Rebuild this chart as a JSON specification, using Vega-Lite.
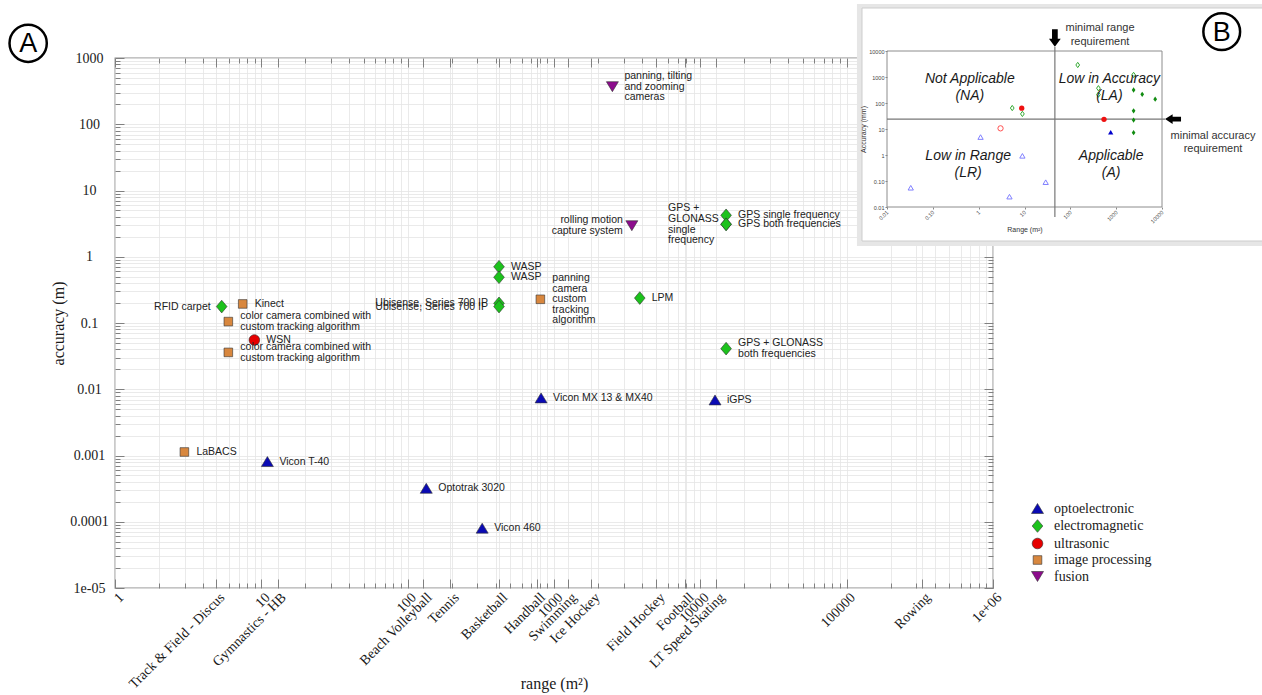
{
  "$schema": "https://vega.github.io/schema/vega-lite/v6.json",
  "width": 878,
  "height": 530,
  "autosize": {"type": "none"},
  "padding": {"left": 115, "top": 58, "right": 269, "bottom": 107},
  "background": "white",
  "config": {
    "view": {"stroke": "#8a8a8a", "strokeWidth": 1.3},
    "axis": {
      "labelFont": "Liberation Serif",
      "titleFont": "Liberation Serif",
      "labelColor": "#1a1a1a",
      "titleColor": "#1a1a1a",
      "titleFontWeight": "normal",
      "tickColor": "#808080",
      "gridColor": "#e4e4e4",
      "gridWidth": 0.8,
      "domain": false
    },
    "text": {"font": "Liberation Sans"}
  },
  "datasets": {
    "main": [
      {"label": "Vicon T-40", "tech": "optoelectronic", "range": 11, "accuracy": 0.00081},
      {"label": "Optotrak 3020", "tech": "optoelectronic", "range": 134, "accuracy": 0.00032},
      {"label": "Vicon 460", "tech": "optoelectronic", "range": 323, "accuracy": 0.00008},
      {"label": "Vicon MX 13 & MX40", "tech": "optoelectronic", "range": 816, "accuracy": 0.0074},
      {"label": "iGPS", "tech": "optoelectronic", "range": 12600, "accuracy": 0.0069},
      {"label": "RFID carpet", "tech": "electromagnetic", "range": 5.36, "accuracy": 0.177},
      {"label": "WASP", "tech": "electromagnetic", "range": 421, "accuracy": 0.707},
      {"label": "WASP", "tech": "electromagnetic", "range": 421, "accuracy": 0.49},
      {"label": "Ubisense, Series 700 IP", "tech": "electromagnetic", "range": 421, "accuracy": 0.198},
      {"label": "Ubisense, Series 700 IP", "tech": "electromagnetic", "range": 421, "accuracy": 0.177},
      {"label": "LPM", "tech": "electromagnetic", "range": 3856, "accuracy": 0.238},
      {"label": "GPS single frequency", "tech": "electromagnetic", "range": 15000, "accuracy": 4.22},
      {"label": "GPS both frequencies", "tech": "electromagnetic", "range": 15000, "accuracy": 3.09},
      {"label": "GPS +\nGLONASS\nsingle\nfrequency", "tech": "electromagnetic", "range": 15000, "accuracy": 3.09},
      {"label": "GPS + GLONASS\nboth frequencies", "tech": "electromagnetic", "range": 15000, "accuracy": 0.041},
      {"label": "WSN", "tech": "ultrasonic", "range": 8.96, "accuracy": 0.0553},
      {"label": "Kinect", "tech": "image processing", "range": 7.46, "accuracy": 0.194},
      {"label": "color camera combined with\ncustom tracking algorithm", "tech": "image processing", "range": 5.95, "accuracy": 0.105},
      {"label": "color camera combined with\ncustom tracking algorithm", "tech": "image processing", "range": 5.95, "accuracy": 0.036},
      {"label": "LaBACS", "tech": "image processing", "range": 2.98, "accuracy": 0.00113},
      {"label": "panning\ncamera\ncustom\ntracking\nalgorithm", "tech": "image processing", "range": 807, "accuracy": 0.228},
      {"label": "rolling motion\ncapture system", "tech": "fusion", "range": 3403, "accuracy": 2.94},
      {"label": "panning, tilting\nand zooming\ncameras", "tech": "fusion", "range": 2506, "accuracy": 369}
    ],
    "insetHollow": [
      {"tech": "optoelectronic", "range": 0.033, "accuracy": 0.055},
      {"tech": "optoelectronic", "range": 1.1, "accuracy": 4.9},
      {"tech": "optoelectronic", "range": 9, "accuracy": 0.93},
      {"tech": "optoelectronic", "range": 4.7, "accuracy": 0.025},
      {"tech": "optoelectronic", "range": 29, "accuracy": 0.09},
      {"tech": "ultrasonic", "range": 3, "accuracy": 10.6},
      {"tech": "electromagnetic", "range": 5.4, "accuracy": 64},
      {"tech": "electromagnetic", "range": 9, "accuracy": 38},
      {"tech": "electromagnetic", "range": 145, "accuracy": 2900},
      {"tech": "electromagnetic", "range": 410, "accuracy": 370},
      {"tech": "electromagnetic", "range": 410, "accuracy": 210},
      {"tech": "electromagnetic", "range": 2400, "accuracy": 1200}
    ],
    "insetFilled": [
      {"tech": "optoelectronic", "range": 760, "accuracy": 7.5},
      {"tech": "ultrasonic", "range": 8.7, "accuracy": 63},
      {"tech": "ultrasonic", "range": 543, "accuracy": 23.6},
      {"tech": "electromagnetic", "range": 2400, "accuracy": 316},
      {"tech": "electromagnetic", "range": 3700, "accuracy": 215},
      {"tech": "electromagnetic", "range": 7100, "accuracy": 140},
      {"tech": "electromagnetic", "range": 2400, "accuracy": 50},
      {"tech": "electromagnetic", "range": 2400, "accuracy": 22},
      {"tech": "electromagnetic", "range": 2400, "accuracy": 7.2}
    ],
    "quadrants": [
      {"label": "Not Applicable\n(NA)", "range": 0.64, "accuracy": 378},
      {"label": "Low in Accuracy\n(LA)", "range": 710, "accuracy": 378},
      {"label": "Low in Range\n(LR)", "range": 0.59, "accuracy": 0.43},
      {"label": "Applicable\n(A)", "range": 776, "accuracy": 0.43}
    ],
    "notes": [
      {"label": "minimal range\nrequirement", "range": 445, "accuracy": 41200},
      {"label": "minimal accuracy\nrequirement", "range": 129700, "accuracy": 3.03}
    ]
  },
  "layer": [
    {
      "data": {"name": "main"},
      "layer": [
        {
          "mark": {"type": "point", "filled": true, "opacity": 1, "size": 182, "stroke": "#333333", "strokeWidth": 0.6},
          "encoding": {
            "x": {
              "field": "range", "type": "quantitative",
              "scale": {"type": "log", "domain": [1, 1000000], "nice": false},
              "axis": {
                "orient": "bottom",
                "values": [1,2,3,4,4.9,6,7,8,9,10,12.9,20,30,40,50,60,70,80,90,100,128,196,200,300,400,420,500,600,700,760,800,900,1000,1250,1800,2000,3000,4000,5000,6000,7000,7900,8000,9000,10000,12800,20000,30000,40000,50000,60000,70000,80000,90000,100000,200000,300000,327000,400000,500000,600000,700000,800000,900000,1000000],
                "labelExpr": "datum.value == 1 ? '1' : datum.value == 4.9 ? 'Track & Field - Discus' : datum.value == 10 ? '10' : datum.value == 12.9 ? 'Gymnastics - HB' : datum.value == 100 ? '100' : datum.value == 128 ? 'Beach Volleyball' : datum.value == 196 ? 'Tennis' : datum.value == 420 ? 'Basketball' : datum.value == 760 ? 'Handball' : datum.value == 1000 ? '1000' : datum.value == 1250 ? 'Swimming' : datum.value == 1800 ? 'Ice Hockey' : datum.value == 5000 ? 'Field Hockey' : datum.value == 7900 ? 'Football' : datum.value == 10000 ? '10000' : datum.value == 12800 ? 'LT Speed Skating' : datum.value == 100000 ? '100000' : datum.value == 327000 ? 'Rowing' : datum.value == 1000000 ? '1e+06' : ''",
                "labelAngle": -45,
                "labelAlign": "right",
                "labelBaseline": "middle",
                "labelFontSize": 14,
                "labelOverlap": false,
                "labelFlush": false,
                "labelPadding": 16,
                "labelOffset": 6,
                "tickSize": {"condition": {"test": "indexof([1,4.9,10,12.9,100,128,196,420,760,1000,1250,1800,5000,7900,10000,12800,100000,327000,1000000], datum.value) >= 0", "value": -9}, "value": -5},
                "grid": true,
                "title": "range (m²)",
                "titleFontSize": 16,
                "titleY": 95,
                "titleBaseline": "middle"
              }
            },
            "y": {
              "field": "accuracy", "type": "quantitative",
              "scale": {"type": "log", "domain": [0.00001, 1000], "nice": false},
              "axis": {
                "orient": "left",
                "values": [0.00001,0.0001,0.001,0.01,0.1,1,10,100,1000,0.00002,0.00003,0.00004,0.00005,0.00006,0.00007,0.00008,0.00009,0.0002,0.0003,0.0004,0.0005,0.0006,0.0007,0.0008,0.0009,0.002,0.003,0.004,0.005,0.006,0.007,0.008,0.009,0.02,0.03,0.04,0.05,0.06,0.07,0.08,0.09,0.2,0.3,0.4,0.5,0.6,0.7,0.8,0.9,2,3,4,5,6,7,8,9,20,30,40,50,60,70,80,90,200,300,400,500,600,700,800,900],
                "labelExpr": "datum.value == 1000 ? '1000' : datum.value == 100 ? '100' : datum.value == 10 ? '10' : datum.value == 1 ? '1' : datum.value == 0.1 ? '0.1' : datum.value == 0.01 ? '0.01' : datum.value == 0.001 ? '0.001' : datum.value == 0.0001 ? '0.0001' : datum.value == 0.00001 ? '1e-05' : ''",
                "labelFontSize": 14,
                "labelAlign": "center",
                "labelOverlap": false,
                "labelFlush": false,
                "labelPadding": 35,
                "tickSize": {"condition": {"test": "indexof([0.00001,0.0001,0.001,0.01,0.1,1,10,100,1000], datum.value) >= 0", "value": -9}, "value": -5},
                "grid": true,
                "title": "accuracy (m)",
                "titleFontSize": 16,
                "titlePadding": 3
              }
            },
            "color": {
              "field": "tech", "type": "nominal",
              "scale": {"domain": ["optoelectronic", "electromagnetic", "ultrasonic", "image processing", "fusion"], "range": ["#0a0ab4", "#1cc21c", "#e60000", "#d8873e", "#8c0c8c"]},
              "legend": {"orient": "none", "legendX": 915, "legendY": 443, "title": null, "labelFont": "Liberation Serif", "labelFontSize": 14, "labelColor": "#1a1a1a", "symbolSize": 182, "symbolStrokeColor": "#333333", "symbolStrokeWidth": 0.6, "rowPadding": 1.5, "labelOffset": 9, "padding": 0}
            },
            "shape": {
              "field": "tech", "type": "nominal",
              "scale": {"domain": ["optoelectronic", "electromagnetic", "ultrasonic", "image processing", "fusion"], "range": ["M0,-0.74L0.89,0.74L-0.89,0.74Z", "M0,-0.94L0.79,0L0,0.94L-0.79,0Z", "M0.79,0A0.79,0.79,0,1,1,-0.79,0A0.79,0.79,0,1,1,0.79,0Z", "M-0.64,-0.64L0.64,-0.64L0.64,0.64L-0.64,0.64Z", "M-0.89,-0.74L0.89,-0.74L0,0.74Z"]},
              "legend": {"orient": "none", "legendX": 915, "legendY": 443, "title": null, "labelFont": "Liberation Serif", "labelFontSize": 14, "labelColor": "#1a1a1a", "symbolSize": 182, "symbolStrokeColor": "#333333", "symbolStrokeWidth": 0.6, "rowPadding": 1.5, "labelOffset": 9, "padding": 0}
            }
          }
        },
        {
          "mark": {"type": "point", "opacity": 0},
          "encoding": {
            "x": {
              "field": "range", "type": "quantitative",
              "axis": {
                "orient": "top",
                "values": [1,2,3,4,4.9,6,7,8,9,10,12.9,20,30,40,50,60,70,80,90,100,128,196,200,300,400,420,500,600,700,760,800,900,1000,1250,1800,2000,3000,4000,5000,6000,7000,7900,8000,9000,10000,12800,20000,30000,40000,50000,60000,70000,80000,90000,100000,200000,300000,327000,400000,500000,600000,700000,800000,900000,1000000],
                "labels": false,
                "grid": false,
                "title": null,
                "tickSize": {"condition": {"test": "indexof([1,4.9,10,12.9,100,128,196,420,760,1000,1250,1800,5000,7900,10000,12800,100000,327000,1000000], datum.value) >= 0", "value": -9}, "value": -5}
              }
            },
            "y": {
              "field": "accuracy", "type": "quantitative",
              "axis": {
                "orient": "right",
                "values": [0.00001,0.0001,0.001,0.01,0.1,1,10,100,1000,0.00002,0.00003,0.00004,0.00005,0.00006,0.00007,0.00008,0.00009,0.0002,0.0003,0.0004,0.0005,0.0006,0.0007,0.0008,0.0009,0.002,0.003,0.004,0.005,0.006,0.007,0.008,0.009,0.02,0.03,0.04,0.05,0.06,0.07,0.08,0.09,0.2,0.3,0.4,0.5,0.6,0.7,0.8,0.9,2,3,4,5,6,7,8,9,20,30,40,50,60,70,80,90,200,300,400,500,600,700,800,900],
                "labels": false,
                "grid": false,
                "title": null,
                "tickSize": {"condition": {"test": "indexof([0.00001,0.0001,0.001,0.01,0.1,1,10,100,1000], datum.value) >= 0", "value": -9}, "value": -5}
              }
            }
          }
        },
        {
          "transform": [
            {"filter": {"not": {"field": "label", "oneOf": ["RFID carpet", "Ubisense, Series 700 IP", "rolling motion\ncapture system", "GPS +\nGLONASS\nsingle\nfrequency"]}}},
            {"filter": "length(split(datum.label, '\\n')) == 1"}
          ],
          "mark": {"type": "text", "align": "left", "baseline": "middle", "dx": 12, "fontSize": 10.5, "color": "#222222"},
          "encoding": {
            "x": {"field": "range", "type": "quantitative", "axis": null},
            "y": {"field": "accuracy", "type": "quantitative", "axis": null},
            "text": {"field": "label"}
          }
        },
        {
          "transform": [
            {"filter": {"not": {"field": "label", "oneOf": ["RFID carpet", "Ubisense, Series 700 IP", "rolling motion\ncapture system", "GPS +\nGLONASS\nsingle\nfrequency"]}}},
            {"filter": "length(split(datum.label, '\\n')) == 2"}
          ],
          "mark": {"type": "text", "align": "left", "baseline": "middle", "dx": 12, "dy": -5.25, "fontSize": 10.5, "lineHeight": 10.5, "lineBreak": "\n", "color": "#222222"},
          "encoding": {
            "x": {"field": "range", "type": "quantitative", "axis": null},
            "y": {"field": "accuracy", "type": "quantitative", "axis": null},
            "text": {"field": "label"}
          }
        },
        {
          "transform": [
            {"filter": {"not": {"field": "label", "oneOf": ["RFID carpet", "Ubisense, Series 700 IP", "rolling motion\ncapture system", "GPS +\nGLONASS\nsingle\nfrequency"]}}},
            {"filter": "length(split(datum.label, '\\n')) == 3"}
          ],
          "mark": {"type": "text", "align": "left", "baseline": "middle", "dx": 12, "dy": -10.5, "fontSize": 10.5, "lineHeight": 10.5, "lineBreak": "\n", "color": "#222222"},
          "encoding": {
            "x": {"field": "range", "type": "quantitative", "axis": null},
            "y": {"field": "accuracy", "type": "quantitative", "axis": null},
            "text": {"field": "label"}
          }
        },
        {
          "transform": [
            {"filter": {"not": {"field": "label", "oneOf": ["RFID carpet", "Ubisense, Series 700 IP", "rolling motion\ncapture system", "GPS +\nGLONASS\nsingle\nfrequency"]}}},
            {"filter": "length(split(datum.label, '\\n')) == 5"}
          ],
          "mark": {"type": "text", "align": "left", "baseline": "middle", "dx": 12, "dy": -21, "fontSize": 10.5, "lineHeight": 10.5, "lineBreak": "\n", "color": "#222222"},
          "encoding": {
            "x": {"field": "range", "type": "quantitative", "axis": null},
            "y": {"field": "accuracy", "type": "quantitative", "axis": null},
            "text": {"field": "label"}
          }
        },
        {
          "transform": [{"filter": {"field": "label", "oneOf": ["RFID carpet", "Ubisense, Series 700 IP"]}}],
          "mark": {"type": "text", "align": "right", "baseline": "middle", "dx": -11, "fontSize": 10.5, "color": "#222222"},
          "encoding": {
            "x": {"field": "range", "type": "quantitative", "axis": null},
            "y": {"field": "accuracy", "type": "quantitative", "axis": null},
            "text": {"field": "label"}
          }
        },
        {
          "transform": [{"filter": {"field": "label", "equal": "rolling motion\ncapture system"}}],
          "mark": {"type": "text", "align": "right", "baseline": "middle", "dx": -9, "dy": -5.25, "fontSize": 10.5, "lineHeight": 10.5, "lineBreak": "\n", "color": "#222222"},
          "encoding": {
            "x": {"field": "range", "type": "quantitative", "axis": null},
            "y": {"field": "accuracy", "type": "quantitative", "axis": null},
            "text": {"field": "label"}
          }
        },
        {
          "transform": [{"filter": {"field": "label", "equal": "GPS +\nGLONASS\nsingle\nfrequency"}}],
          "mark": {"type": "text", "align": "left", "baseline": "middle", "dx": -58, "dy": -16.2, "fontSize": 10.5, "lineHeight": 10.8, "lineBreak": "\n", "color": "#222222"},
          "encoding": {
            "x": {"field": "range", "type": "quantitative", "axis": null},
            "y": {"field": "accuracy", "type": "quantitative", "axis": null},
            "text": {"field": "label"}
          }
        },
        {
          "data": {"values": [{"panel": "A"}]},
          "mark": {"type": "point", "shape": "circle", "filled": false, "size": 1390, "stroke": "#000000", "strokeWidth": 2.5, "opacity": 1},
          "encoding": {
            "x": {"datum": 0.255, "type": "quantitative", "axis": null},
            "y": {"datum": 1667, "type": "quantitative", "axis": null}
          }
        },
        {
          "data": {"values": [{"panel": "A"}]},
          "mark": {"type": "text", "align": "center", "baseline": "middle", "fontSize": 27, "color": "#000000", "dy": 1},
          "encoding": {
            "x": {"datum": 0.255, "type": "quantitative", "axis": null},
            "y": {"datum": 1667, "type": "quantitative", "axis": null},
            "text": {"field": "panel"}
          }
        }
      ],
      "resolve": {"axis": {"x": "independent", "y": "independent"}}
    },
    {
      "layer": [
        {
          "data": {"values": [{}]},
          "mark": {"type": "rect", "fill": "#e6e6e6"},
          "encoding": {
            "x": {"datum": 0.00221, "type": "quantitative", "scale": {"type": "log", "domain": [0.01, 10000], "range": [772, 1047], "nice": false}, "axis": null},
            "x2": {"datum": 2270000},
            "y": {"datum": 643000, "type": "quantitative", "scale": {"type": "log", "domain": [0.01, 10000], "range": [149, -7], "nice": false}, "axis": null},
            "y2": {"datum": 0.000316}
          }
        },
        {
          "data": {"values": [{}]},
          "mark": {"type": "rect", "fill": "#ffffff", "stroke": "#cccccc", "strokeWidth": 1},
          "encoding": {
            "x": {"datum": 0.002847, "type": "quantitative", "axis": null},
            "x2": {"datum": 2270000},
            "y": {"datum": 451000, "type": "quantitative", "axis": null},
            "y2": {"datum": 0.000492}
          }
        },
        {
          "data": {"values": [{}]},
          "mark": {"type": "rect", "fill": "transparent", "stroke": "#8c8c8c", "strokeWidth": 1},
          "encoding": {
            "x": {"datum": 0.01, "type": "quantitative", "axis": null},
            "x2": {"datum": 10000},
            "y": {"datum": 0.01, "type": "quantitative", "axis": null},
            "y2": {"datum": 10000}
          }
        },
        {
          "data": {"values": [{}]},
          "mark": {"type": "rule", "color": "#777777", "strokeWidth": 1.2},
          "encoding": {
            "x": {"datum": 46, "type": "quantitative", "axis": null},
            "y": {"datum": 14250, "type": "quantitative", "axis": null},
            "y2": {"datum": 0.0041}
          }
        },
        {
          "data": {"values": [{}]},
          "mark": {"type": "rule", "color": "#777777", "strokeWidth": 1.2},
          "encoding": {
            "x": {"datum": 0.01, "type": "quantitative", "axis": null},
            "x2": {"datum": 11650},
            "y": {"datum": 24, "type": "quantitative", "axis": null}
          }
        },
        {
          "data": {"values": [{}]},
          "mark": {"type": "point", "shape": "M-0.33,-1L0.33,-1L0.33,0.1L0.68,0.1L0,1L-0.68,0.1L-0.33,0.1Z", "filled": true, "color": "#000000", "size": 300, "opacity": 1},
          "encoding": {
            "x": {"datum": 46, "type": "quantitative", "axis": null},
            "y": {"datum": 31600, "type": "quantitative", "axis": null}
          }
        },
        {
          "data": {"values": [{}]},
          "mark": {"type": "point", "shape": "M1,-0.3L-0.05,-0.3L-0.05,-0.6L-1,0L-0.05,0.6L-0.05,0.3L1,0.3Z", "filled": true, "color": "#000000", "size": 256, "opacity": 1},
          "encoding": {
            "x": {"datum": 17400, "type": "quantitative", "axis": null},
            "y": {"datum": 24, "type": "quantitative", "axis": null}
          }
        },
        {
          "data": {"name": "insetHollow"},
          "mark": {"type": "point", "filled": false, "strokeWidth": 1, "size": 28, "opacity": 1},
          "encoding": {
            "x": {
              "field": "range", "type": "quantitative",
              "axis": {
                "orient": "bottom", "offset": -381, "zindex": 1,
                "values": [0.01, 0.1, 1, 10, 100, 1000, 10000],
                "labelExpr": "datum.value == 0.01 ? '0.01' : datum.value == 0.1 ? '0.10' : format(datum.value, 'd')",
                "labelAngle": -45, "labelAlign": "right", "labelBaseline": "middle",
                "labelFont": "Liberation Sans", "labelFontSize": 5.5, "labelColor": "#444444",
                "labelOverlap": false, "labelFlush": false, "labelPadding": 2,
                "tickSize": 2, "tickColor": "#888888", "grid": false, "domain": false,
                "title": "Range (m²)", "titleFont": "Liberation Sans", "titleFontSize": 7, "titleColor": "#333333", "titlePadding": 1
              }
            },
            "y": {
              "field": "accuracy", "type": "quantitative",
              "axis": {
                "orient": "left", "offset": -772, "zindex": 1,
                "values": [0.01, 0.1, 1, 10, 100, 1000, 10000],
                "labelExpr": "datum.value == 0.01 ? '0.01' : datum.value == 0.1 ? '0.10' : format(datum.value, 'd')",
                "labelFont": "Liberation Sans", "labelFontSize": 5.5, "labelColor": "#444444",
                "labelOverlap": false, "labelFlush": false, "labelPadding": 1,
                "tickSize": 2, "tickColor": "#888888", "grid": false, "domain": false,
                "title": "Accuracy (mm)", "titleFont": "Liberation Sans", "titleFontSize": 7, "titleColor": "#333333", "titlePadding": 2
              }
            },
            "color": {"field": "tech", "type": "nominal", "scale": {"domain": ["optoelectronic", "electromagnetic", "ultrasonic"], "range": ["#8080ff", "#33aa33", "#ff5050"]}, "legend": null},
            "shape": {"field": "tech", "type": "nominal", "scale": {"domain": ["optoelectronic", "electromagnetic", "ultrasonic", "image processing", "fusion"], "range": ["triangle-up", "M0,-1L0.7,0L0,1L-0.7,0Z", "circle", "square", "triangle-down"]}, "legend": null}
          }
        },
        {
          "data": {"name": "insetFilled"},
          "mark": {"type": "point", "filled": true, "size": 28, "opacity": 1},
          "encoding": {
            "x": {"field": "range", "type": "quantitative", "axis": null},
            "y": {"field": "accuracy", "type": "quantitative", "axis": null},
            "color": {"field": "tech", "type": "nominal", "scale": {"domain": ["optoelectronic", "electromagnetic", "ultrasonic"], "range": ["#0000cc", "#118c11", "#ee1111"]}, "legend": null},
            "shape": {"field": "tech", "type": "nominal", "legend": null}
          }
        },
        {
          "data": {"name": "quadrants"},
          "mark": {"type": "text", "align": "center", "baseline": "middle", "dy": -8.5, "fontSize": 14, "fontStyle": "italic", "lineHeight": 17, "lineBreak": "\n", "color": "#1a1a1a"},
          "encoding": {
            "x": {"field": "range", "type": "quantitative", "axis": null},
            "y": {"field": "accuracy", "type": "quantitative", "axis": null},
            "text": {"field": "label"}
          }
        },
        {
          "data": {"name": "notes"},
          "mark": {"type": "text", "align": "center", "baseline": "middle", "dy": -6.75, "fontSize": 11, "lineHeight": 13.5, "lineBreak": "\n", "color": "#333333"},
          "encoding": {
            "x": {"field": "range", "type": "quantitative", "axis": null},
            "y": {"field": "accuracy", "type": "quantitative", "axis": null},
            "text": {"field": "label"}
          }
        },
        {
          "data": {"values": [{"panel": "B"}]},
          "mark": {"type": "point", "shape": "circle", "filled": false, "size": 1350, "stroke": "#000000", "strokeWidth": 2.5, "opacity": 1},
          "encoding": {
            "x": {"datum": 201000, "type": "quantitative", "axis": null},
            "y": {"datum": 55200, "type": "quantitative", "axis": null}
          }
        },
        {
          "data": {"values": [{"panel": "B"}]},
          "mark": {"type": "text", "align": "center", "baseline": "middle", "fontSize": 27, "color": "#000000", "dy": 1},
          "encoding": {
            "x": {"datum": 201000, "type": "quantitative", "axis": null},
            "y": {"datum": 55200, "type": "quantitative", "axis": null},
            "text": {"field": "panel"}
          }
        }
      ],
      "resolve": {"scale": {"color": "independent"}, "axis": {"x": "independent", "y": "independent"}}
    }
  ],
  "resolve": {
    "scale": {"x": "independent", "y": "independent", "color": "independent", "shape": "independent"},
    "axis": {"x": "independent", "y": "independent"}
  }
}
